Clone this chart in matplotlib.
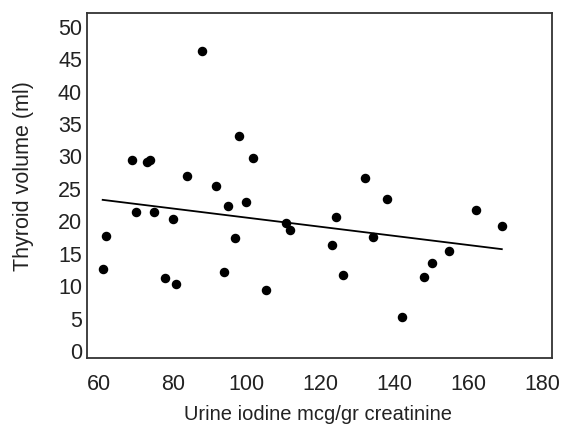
import matplotlib
matplotlib.use("Agg")
import matplotlib.pyplot as plt

plt.rcParams['font.family'] = ['Liberation Sans', 'DejaVu Sans']

# urine iodine (mcg/gr creatinine) vs thyroid volume (ml)
iodine = [61.0, 61.9, 68.9, 70.0, 72.9, 73.9, 74.9, 78.0, 80.0, 80.9,
          83.9, 88.0, 91.8, 93.9, 94.9, 96.9, 97.9, 99.8, 101.8, 105.1,
          110.7, 111.8, 123.1, 124.1, 126.0, 132.0, 134.1, 138.0, 142.0, 148.0,
          150.2, 154.9, 162.1, 169.1]
volume = [12.7, 17.7, 29.5, 21.5, 29.2, 29.5, 21.4, 11.3, 20.4, 10.3,
          27.0, 46.2, 25.4, 12.2, 22.4, 17.4, 33.2, 22.9, 29.7, 9.4,
          19.8, 18.6, 16.4, 20.7, 11.7, 26.7, 17.6, 23.5, 5.3, 11.4,
          13.5, 15.4, 21.7, 19.3]

# regression line end points
fit_x = [61.0, 169.1]
fit_y = [23.3, 15.7]

x_ticks = [60, 80, 100, 120, 140, 160, 180]
y_ticks = [0, 5, 10, 15, 20, 25, 30, 35, 40, 45, 50]

fig = plt.figure(figsize=(5.63, 4.29), dpi=100)
ax = fig.add_axes([0.1545, 0.1662, 0.826, 0.8035])

ax.plot(fit_x, fit_y, color='black', linewidth=1.3)
ax.scatter(iodine, volume, s=34, color='black', zorder=3)

ax.set_xlim(56.75, 182.7)
ax.set_ylim(-1.03, 52.1)
ax.set_xticks(x_ticks)
ax.set_yticks(y_ticks)
ax.tick_params(length=0, labelsize=15.5, colors='#222222')
ax.tick_params(axis='x', pad=11.5)
ax.tick_params(axis='y', pad=3.5)

for s in ax.spines.values():
    s.set_color('#333333')
    s.set_linewidth(1.3)

ax.set_xlabel('Urine iodine mcg/gr creatinine', fontsize=14.5, color='#222222')
ax.set_ylabel('Thyroid volume (ml)', fontsize=15.5, color='#222222')
ax.xaxis.set_label_coords(0.4957, -0.137)
ax.yaxis.set_label_coords(-0.114, 0.526)

fig.savefig('out.png', dpi=100)
